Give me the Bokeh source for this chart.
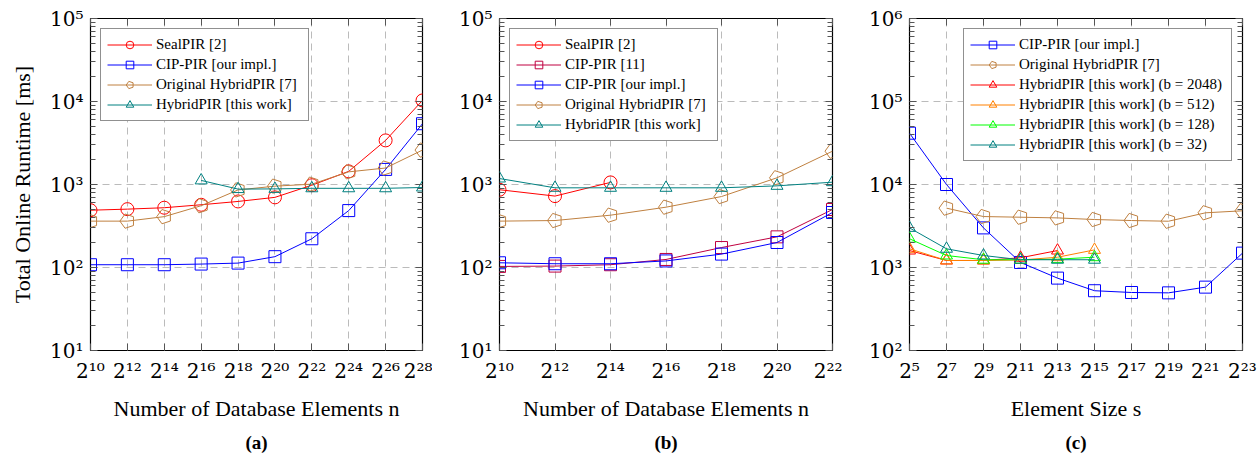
import numpy as np
from bokeh.plotting import figure
from bokeh.models import (FixedTicker, CustomJSTickFormatter, LogAxis, Legend,
                          LegendItem, Title, Range1d)
from bokeh.layouts import row
from bokeh.embed import file_html
from bokeh.resources import INLINE

# ---------------- data ----------------
# panel (a)
a_n = [2**k for k in range(10, 29, 2)]
a_sealpir = [490, 505, 525, 570, 625, 700, 980, 1440, 3400, 10300]
a_cip_ours = [108, 108, 108, 110, 113, 135, 222, 485, 1520, 5400]
a_orig_hybrid = [362, 362, 410, 555, 860, 955, 1010, 1420, 1580, 2600]
a_hybrid_n = [2**k for k in range(16, 29, 2)]
a_hybrid = [1120, 880, 885, 900, 900, 900, 920]

# panel (b)
b_n = [2**k for k in range(10, 23, 2)]
b_sealpir_n = [2**10, 2**12, 2**14]
b_sealpir = [865, 725, 1060]
b_cip11 = [103, 104, 108, 125, 174, 234, 500]
b_cip_ours = [114, 111, 111, 120, 145, 200, 460]
b_orig_hybrid = [362, 368, 427, 533, 716, 1205, 2520]
b_hybrid = [1180, 912, 912, 912, 912, 963, 1066]

# panel (c)
c_s = [2**k for k in range(5, 24, 2)]
c_cip_ours = [41500, 10000, 3000, 1150, 745, 525, 500, 495, 580, 1490]
c_orig_s = [2**k for k in range(7, 24, 2)]
c_orig_hybrid = [5190, 4110, 4035, 3960, 3785, 3680, 3610, 4560, 4820]
c_h2048_s = [2**k for k in range(5, 14, 2)]
c_h2048 = [1600, 1215, 1215, 1310, 1600]
c_hb_s = [2**k for k in range(5, 16, 2)]
c_h512 = [1680, 1215, 1215, 1230, 1330, 1630]
c_h128 = [2220, 1395, 1240, 1240, 1260, 1330]
c_h32 = [3000, 1680, 1395, 1240, 1240, 1240]

a_xticks = [2**k for k in range(10, 29, 2)]
b_xticks = [2**k for k in range(10, 23, 2)]
c_xticks = [2**k for k in range(5, 24, 2)]
ab_yticks = [10, 100, 1000, 10000, 100000]
c_yticks = [100, 1000, 10000, 100000, 1000000]

# ---------------- style ----------------
FONT = "Liberation Serif"
TICK_FONT = "DejaVu Serif"
RED = "#ff0000"
BLUE = "#0000ff"
BROWN = "#bf8040"
TEAL = "#008080"
PURPLE = "#bf0040"
ORANGE = "#ff8000"
GREEN = "#00ff00"

SUP = r"""const sup = ['\u2070','\u00b9','\u00b2','\u00b3','\u2074','\u2075','\u2076','\u2077','\u2078','\u2079'];"""


def fmt(base):
    fn = "Math.log2(tick)" if base == 2 else "Math.log10(tick)"
    return CustomJSTickFormatter(code=SUP + f"""
const e = Math.round({fn});
return '{base}' + String(e).split('').map(d => sup[+d]).join('');
""")


def minor_of(ticks):
    out = []
    for t in ticks[:-1]:
        out += [m * t for m in range(2, 10)]
    return out


def make_fig(fw, left, right, xr, yr, xticks, yticks, xlabel, caption, ylabel=None):
    p = figure(frame_width=fw, frame_height=332, x_axis_type="log", y_axis_type="log",
               x_range=Range1d(*xr), y_range=Range1d(*yr),
               output_backend="svg", toolbar_location=None,
               min_border_left=left, min_border_right=right,
               min_border_top=18, min_border_bottom=113)
    p.outline_line_color = "black"
    p.outline_line_width = 1.2
    p.background_fill_color = "white"
    p.border_fill_color = "white"

    xt = FixedTicker(ticks=xticks, minor_ticks=[])
    yt = FixedTicker(ticks=yticks, minor_ticks=minor_of(yticks))
    blank = CustomJSTickFormatter(code="return '';")

    xa = p.xaxis[0]
    xa.ticker = xt
    xa.formatter = fmt(2)
    ya = p.yaxis[0]
    ya.ticker = yt
    ya.formatter = fmt(10)
    for ax in (xa, ya):
        ax.axis_line_color = None
        ax.major_tick_in = 7
        ax.major_tick_out = 0
        ax.minor_tick_in = 5
        ax.minor_tick_out = 0
        ax.major_tick_line_color = "#555555"
        ax.minor_tick_line_color = "#555555"
        ax.major_label_text_font = TICK_FONT
        ax.major_label_text_font_size = "20px"
        ax.major_label_text_color = "black"
        ax.axis_label_text_font = FONT
        ax.axis_label_text_font_size = "22px"
        ax.axis_label_text_font_style = "normal"
        ax.axis_label_text_color = "black"
    xa.minor_tick_line_color = None
    xa.major_label_standoff = 8
    ya.major_label_standoff = 7
    xa.axis_label = xlabel
    xa.axis_label_standoff = 10
    if ylabel:
        ya.axis_label = ylabel
        ya.axis_label_standoff = 12

    ra = LogAxis(ticker=yt, formatter=blank, axis_line_color=None,
                 major_tick_in=7, major_tick_out=0, minor_tick_in=5, minor_tick_out=0,
                 major_tick_line_color="#555555", minor_tick_line_color="#555555",
                 major_label_standoff=0, major_label_text_font_size="0px")
    p.add_layout(ra, "right")
    ta = LogAxis(ticker=xt, formatter=blank, axis_line_color=None,
                 major_tick_in=7, major_tick_out=0, minor_tick_line_color=None,
                 major_tick_line_color="#555555",
                 major_label_standoff=0, major_label_text_font_size="0px")
    p.add_layout(ta, "above")

    for g in (p.xgrid[0], p.ygrid[0]):
        g.grid_line_color = "#bbbbbb"
        g.grid_line_dash = "7 5"
        g.grid_line_width = 1

    p.add_layout(Title(text=caption, align="center", text_font=FONT,
                       text_font_size="19px", text_font_style="bold",
                       text_color="black", standoff=12), "below")
    return p


def series(p, x, y, color, marker):
    ln = p.line(x, y, line_color=color, line_width=1)
    if marker == "pentagon":
        mk = p.ngon(x=x, y=y, radius=7.5, radius_units="screen", n=5,
                    angle=np.pi / 2, line_color=color, fill_color=None, line_width=1)
    else:
        size = {"circle": 13, "square": 12, "triangle": 12}[marker]
        mk = p.scatter(x, y, marker=marker, size=size, line_color=color,
                       fill_color=None, line_width=1)
    return [ln, mk]


def add_legend(p, items, location, label_width):
    lg = Legend(items=[LegendItem(label=l, renderers=r) for l, r in items],
                location=location)
    lg.label_text_font = FONT
    lg.label_text_font_size = "15px"
    lg.label_text_color = "black"
    lg.glyph_width = 45
    lg.glyph_height = 19
    lg.label_height = 19
    lg.label_width = label_width
    lg.label_standoff = 4
    lg.spacing = 1
    lg.padding = 6
    lg.margin = 10
    lg.border_line_color = "#222222"
    lg.border_line_width = 1.2
    lg.background_fill_alpha = 1
    p.add_layout(lg)


# ---------------- panel (a) ----------------
pa = make_fig(332, 90, 10, (2**10, 2**28), (10, 1e5), a_xticks, ab_yticks,
              "Number of Database Elements n", "(a)", "Total Online Runtime [ms]")
add_legend(pa, [
    ("SealPIR [2]", series(pa, a_n, a_sealpir, RED, "circle")),
    ("CIP-PIR [our impl.]", series(pa, a_n, a_cip_ours, BLUE, "square")),
    ("Original HybridPIR [7]", series(pa, a_n, a_orig_hybrid, BROWN, "pentagon")),
    ("HybridPIR [this work]", series(pa, a_hybrid_n, a_hybrid, TEAL, "triangle")),
], "top_left", 146)

# ---------------- panel (b) ----------------
pb = make_fig(333, 67, 10, (2**10, 2**22), (10, 1e5), b_xticks, ab_yticks,
              "Number of Database Elements n", "(b)")
add_legend(pb, [
    ("SealPIR [2]", series(pb, b_sealpir_n, b_sealpir, RED, "circle")),
    ("CIP-PIR [11]", series(pb, b_n, b_cip11, PURPLE, "square")),
    ("CIP-PIR [our impl.]", series(pb, b_n, b_cip_ours, BLUE, "square")),
    ("Original HybridPIR [7]", series(pb, b_n, b_orig_hybrid, BROWN, "pentagon")),
    ("HybridPIR [this work]", series(pb, b_n, b_hybrid, TEAL, "triangle")),
], "top_left", 146)

# ---------------- panel (c) ----------------
pc = make_fig(333, 67, 17, (2**5, 2**23), (100, 1e6), c_xticks, c_yticks,
              "Element Size s", "(c)")
add_legend(pc, [
    ("CIP-PIR [our impl.]", series(pc, c_s, c_cip_ours, BLUE, "square")),
    ("Original HybridPIR [7]", series(pc, c_orig_s, c_orig_hybrid, BROWN, "pentagon")),
    ("HybridPIR [this work] (b = 2048)", series(pc, c_h2048_s, c_h2048, RED, "triangle")),
    ("HybridPIR [this work] (b = 512)", series(pc, c_hb_s, c_h512, ORANGE, "triangle")),
    ("HybridPIR [this work] (b = 128)", series(pc, c_hb_s, c_h128, GREEN, "triangle")),
    ("HybridPIR [this work] (b = 32)", series(pc, c_hb_s, c_h32, TEAL, "triangle")),
], "top_right", 206)

layout = row(pa, pb, pc)
open("out.html", "w", encoding="utf-8").write(file_html(layout, INLINE))
